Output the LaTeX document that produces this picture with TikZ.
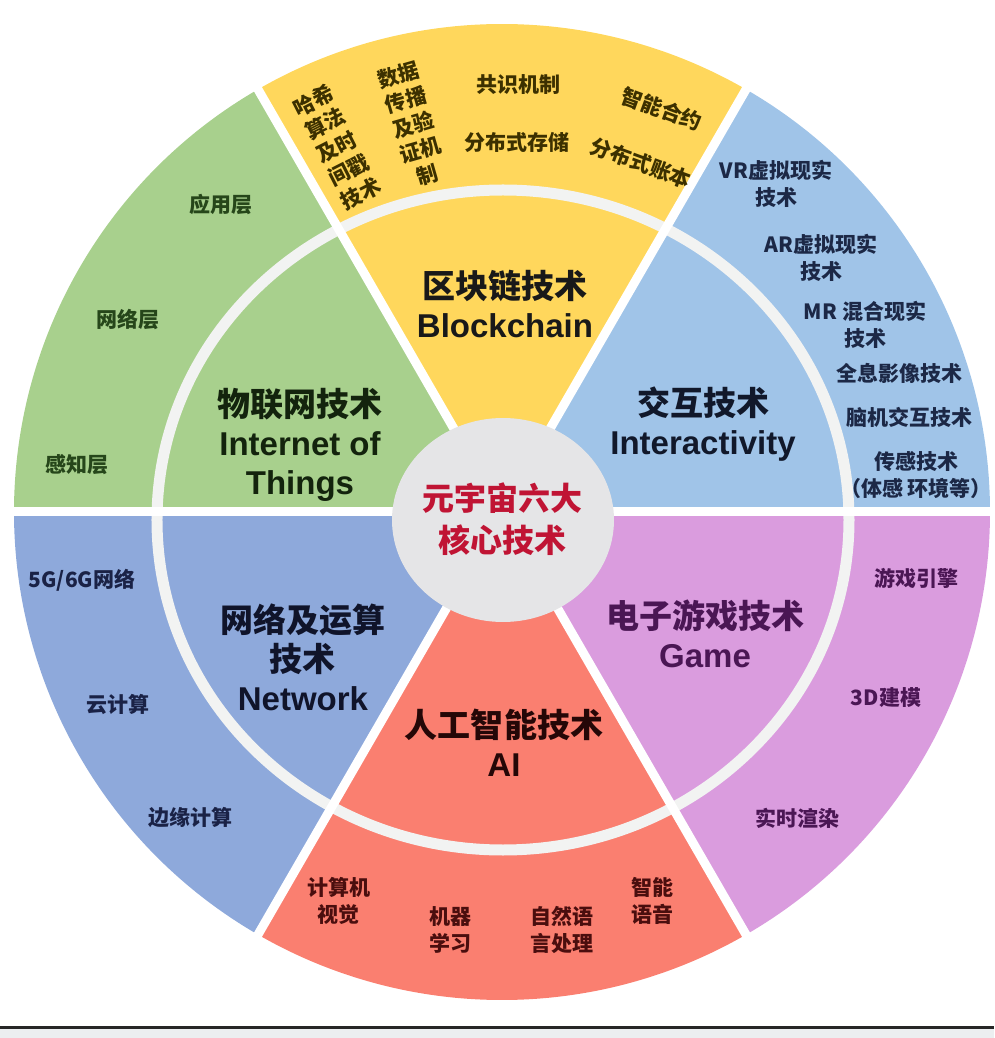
\documentclass[tikz,border=0pt]{standalone}
\usepackage{fontspec}
\setmainfont{Noto Sans CJK SC}
\newfontfamily\latinfont{Liberation Sans}
\usepackage{tikz}

\definecolor{chainyellow}{RGB}{255,215,92}
\definecolor{actblue}{RGB}{160,196,232}
\definecolor{iotgreen}{RGB}{168,208,141}
\definecolor{netblue}{RGB}{142,169,219}
\definecolor{aired}{RGB}{250,127,112}
\definecolor{gamepink}{RGB}{218,156,222}
\definecolor{coregrey}{RGB}{229,229,231}
\definecolor{coretext}{RGB}{192,20,52}
\definecolor{chaintext}{RGB}{60,48,0}
\definecolor{acttext}{RGB}{28,40,70}
\definecolor{iottext}{RGB}{38,70,26}
\definecolor{nettext}{RGB}{26,34,70}
\definecolor{aitext}{RGB}{74,14,14}
\definecolor{gametext}{RGB}{74,22,84}
\definecolor{ringgap}{RGB}{242,243,242}
\definecolor{stripgrey}{RGB}{236,238,240}

\tikzset{
  inner label/.style={align=center,font=\fontsize{33}{39}\selectfont\bfseries},
  outer label/.style={align=center,font=\fontsize{21}{27}\selectfont\bfseries},
  chain label/.style={align=center,text=chaintext,font=\fontsize{21}{26}\selectfont\bfseries},
  gap/.style={white,line width=9pt}
}

\begin{document}
\begin{tikzpicture} [x=1pt,y=1pt]
    \useasboundingbox (-502,-526) rectangle (492,512);
    \fill[actblue] (0,0) -- (0:488) arc[start angle=0,end angle=60,radius=488] -- cycle;
    \fill[chainyellow] (0,0) -- (60:488) arc[start angle=60,end angle=120,radius=488] -- cycle;
    \fill[iotgreen] (0,0) -- (120:488) arc[start angle=120,end angle=180,radius=488] -- cycle;
    \fill[netblue] (0,0) -- (180:488) arc[start angle=180,end angle=240,radius=488] -- cycle;
    \fill[aired] (0,0) -- (240:488) arc[start angle=240,end angle=300,radius=488] -- cycle;
    \fill[gamepink] (0,0) -- (300:488) arc[start angle=300,end angle=360,radius=488] -- cycle;
    \draw[gap,ringgap,line width=11pt] (1,-8) ellipse [x radius=346,y radius=330];
    \draw[gap] (0,0) -- (0:500);
    \draw[gap] (0,0) -- (60:500);
    \draw[gap] (0,0) -- (120:500);
    \draw[gap] (0,0) -- (180:500);
    \draw[gap] (0,0) -- (240:500);
    \draw[gap] (0,0) -- (300:500);
    \fill[coregrey] (1,-8) ellipse [x radius=111,y radius=102];
    \fill[stripgrey] (-502,-517) rectangle (492,-526);
    \draw[line width=3pt,black!85] (-502,-515.5) -- (492,-515.5);

    \node[font=\fontsize{32}{42}\selectfont\bfseries,text=coretext,align=center] (core) at (0,-7) {元宇宙六大\\核心技术};

    \node[inner label,text=black!90] (chain) at (3,208) {区块链技术\\{\latinfont\bfseries Blockchain}};
    \node[inner label,text=acttext!60!black] (act) at (201,88) {交互技术\\{\latinfont\bfseries Interactivity}};
    \node[inner label,text=iottext!50!black] (iot) at (-202,67) {物联网技术\\{\latinfont\bfseries Internet of}\\{\latinfont\bfseries Things}};
    \node[inner label,text=nettext!60!black] (net) at (-199,-145) {网络及运算\\技术\\{\latinfont\bfseries Network}};
    \node[inner label,text=aitext!50!black] (ai) at (2,-231) {人工智能技术\\{\latinfont\bfseries AI}};
    \node[inner label,text=gametext] (game) at (203,-122) {电子游戏技术\\{\latinfont\bfseries Game}};

    \node[chain label,rotate=27] (hash) at (-165,365) {哈希\\算法\\及时\\间戳\\技术};
    \node[chain label,rotate=16] (spread) at (-89,387) {数据\\传播\\及验\\证机\\制};
    \node[chain label] (consensus) at (16,427) {共识机制};
    \node[chain label] (storage) at (15,370) {分布式存储};
    \node[chain label,rotate=-20] (contract) at (160,403) {智能合约};
    \node[chain label,rotate=-20] (ledger) at (139,349) {分布式账本};

    \node[outer label,text=acttext] (vr) at (274,328) {VR虚拟现实\\技术};
    \node[outer label,text=acttext] (ar) at (319,254) {AR虚拟现实\\技术};
    \node[outer label,text=acttext] (mr) at (363,187) {MR 混合现实\\技术};
    \node[outer label,text=acttext] (holo) at (397,139) {全息影像技术};
    \node[outer label,text=acttext] (bci) at (407,95) {脑机交互技术};
    \node[outer label,text=acttext] (sensor) at (414,37) {传感技术\\（体感 环境等）};

    \node[outer label,text=iottext] (app) at (-281,307) {应用层};
    \node[outer label,text=iottext] (netlayer) at (-374,192) {网络层};
    \node[outer label,text=iottext] (perceive) at (-425,47) {感知层};

    \node[outer label,text=nettext] (fiveg) at (-420,-68) {5G/6G网络};
    \node[outer label,text=nettext] (cloud) at (-384,-193) {云计算};
    \node[outer label,text=nettext] (edge) at (-311,-306) {边缘计算};

    \node[outer label,text=aitext] (vision) at (-163,-389) {计算机\\视觉};
    \node[outer label,text=aitext] (learning) at (-52,-418) {机器\\学习};
    \node[outer label,text=aitext] (nlp) at (60,-418) {自然语\\言处理};
    \node[outer label,text=aitext] (speech) at (150,-389) {智能\\语音};

    \node[outer label,text=gametext] (engine) at (414,-66) {游戏引擎};
    \node[outer label,text=gametext] (model) at (384,-186) {3D建模};
    \node[outer label,text=gametext] (render) at (295,-306) {实时渲染};
\end{tikzpicture}
\end{document}
